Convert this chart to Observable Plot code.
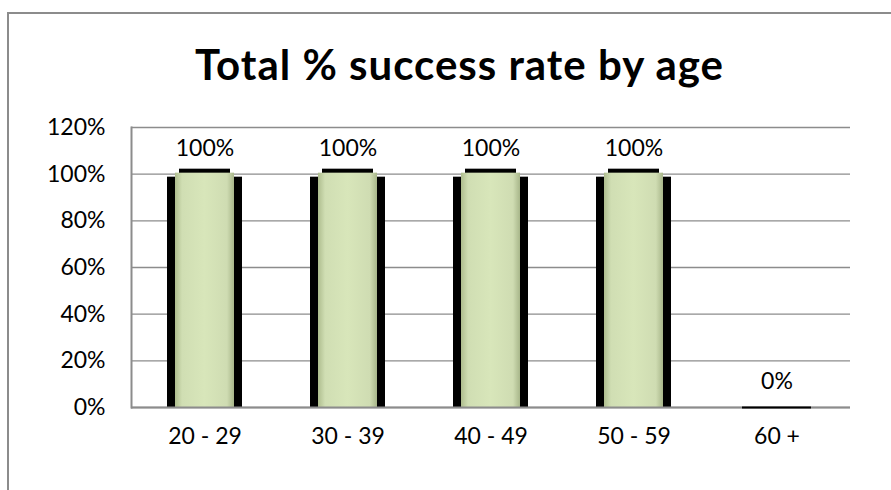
<!DOCTYPE html>
<html>
<head>
<meta charset="utf-8">
<script src="https://cdn.jsdelivr.net/npm/d3@7"></script>
<script src="https://cdn.jsdelivr.net/npm/@observablehq/plot@0.6"></script>
<style>
  body { margin: 0; background: #fff; }
  #wrap { position: relative; width: 891px; height: 490px; overflow: hidden; font-family: Lato, "Open Sans", sans-serif; }
  #frame { position: absolute; left: 7px; top: 12px; width: 900px; height: 500px; border: 2px solid #8c8c8c; box-sizing: border-box; }
  #title { position: absolute; left: 14px; width: 891px; top: 39px; text-align: center; font-size: 42px; font-weight: bold; color: #000; font-family: Lato, "Open Sans", sans-serif; letter-spacing: 1px; white-space: nowrap; }
  #chart { position: absolute; left: 0; top: 0; }
</style>
</head>
<body>
<div id="wrap">
  <div id="frame"></div>
  <div id="chart"></div>
  <div id="title">Total % success rate by age</div>
</div>
<script>
const categories = ["20 - 29", "30 - 39", "40 - 49", "50 - 59", "60 +"];
const values = [1.0, 1.0, 1.0, 1.0, 0.0];
const labels = ["100%", "100%", "100%", "100%", "0%"];
const yTicks = [0, 0.2, 0.4, 0.6, 0.8, 1.0, 1.2];

const data = categories.map((c, i) => ({cat: c, v: values[i], label: labels[i]}));
const nonZero = d => d.v > 0;

const plot = Plot.plot({
  width: 891,
  height: 490,
  marginLeft: 131,
  marginRight: 41,
  marginTop: 127,
  marginBottom: 83,
  style: {fontFamily: "Lato, 'Open Sans', sans-serif", fontSize: "23px", color: "#000", background: "transparent"},
  x: {domain: categories, paddingInner: 0.477, paddingOuter: 0.2385, label: null},
  y: {domain: [0, 1.2], label: null},
  marks: [
    Plot.gridY(yTicks, {stroke: "#8c8c8c", strokeOpacity: 1, strokeWidth: 1.3}),
    Plot.frame({anchor: "left", stroke: "#8c8c8c", strokeWidth: 2}),
    Plot.axisY(yTicks, {tickFormat: d => Math.round(d * 100) + "%", tickSize: 0, tickPadding: 26, fill: "#000", fontSize: 23, label: null}),
    Plot.axisX({tickSize: 0, tickPadding: 20, fill: "#000", fontSize: 23, label: null}),
    Plot.barY(data, {x: "cat", y: "v", filter: nonZero, fill: "#000", insetTop: 3}),
    Plot.barY(data, {x: "cat", y: "v", filter: nonZero, fill: "#000", insetLeft: 12, insetRight: 12, insetTop: -5}),
    Plot.barY(data, {x: "cat", y: "v", filter: nonZero, fill: "url(#gbar)", insetLeft: 8, insetRight: 8, insetTop: -1}),
    Plot.ruleY([0], {stroke: "#8c8c8c", strokeWidth: 2}),
    Plot.tickY(data, {x: "cat", y: "v", filter: d => d.v === 0, stroke: "#000", strokeWidth: 2, insetLeft: 3, insetRight: 3}),
    Plot.text(data, {x: "cat", y: "v", text: "label", dy: -26, fontSize: 23, fill: "#000"})
  ]
});

const svg = d3.select(plot);
const defs = svg.insert("defs", ":first-child");
const g = defs.append("linearGradient").attr("id", "gbar").attr("x1", "0").attr("x2", "1").attr("y1", "0").attr("y2", "0");
g.append("stop").attr("offset", "0%").attr("stop-color", "#aebd8e");
g.append("stop").attr("offset", "12%").attr("stop-color", "#d0deb3");
g.append("stop").attr("offset", "50%").attr("stop-color", "#d8e6ba");
g.append("stop").attr("offset", "88%").attr("stop-color", "#cfdcb2");
g.append("stop").attr("offset", "100%").attr("stop-color", "#a8b68a");

document.getElementById("chart").appendChild(plot);
</script>
</body>
</html>
